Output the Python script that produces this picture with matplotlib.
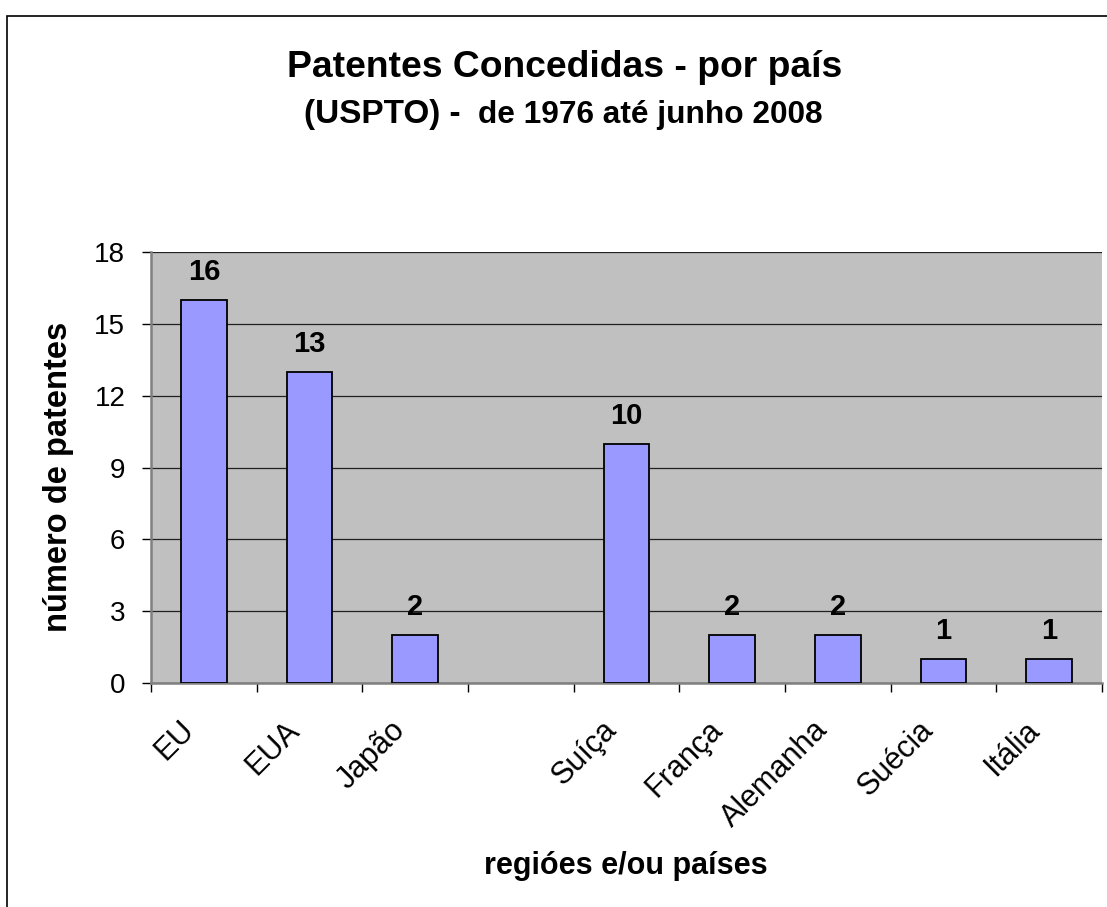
import matplotlib.pyplot as plt
import matplotlib.transforms as mtransforms
import numpy as np

plt.rcParams['font.family'] = ['Liberation Sans', 'DejaVu Sans']

# dados (a categoria vazia fica como espaco)
paises = ['EU', 'EUA', 'Japão', '', 'Suíça', 'França', 'Alemanha', 'Suécia', 'Itália']
patentes = [16, 13, 2, 0, 10, 2, 2, 1, 1]

W, H = 1107, 907
fig = plt.figure(figsize=(W/100, H/100), dpi=100)
ax = fig.add_axes([151/W, 1 - 683/H, (1102-151)/W, (683-252)/H])

x = np.arange(len(paises))
mask = np.array([p != '' for p in paises])
ax.bar(x[mask], np.array(patentes)[mask], width=0.43, color='#9999FF',
       edgecolor='black', linewidth=1.3, zorder=3)

for xi, v, p in zip(x, patentes, paises):
    if p == '':
        continue
    ax.annotate(str(v), (xi, v), xytext=(0, 14.4), textcoords='offset points',
                ha='center', va='baseline', fontsize=21, fontweight='bold')

ax.set_facecolor('#C0C0C0')
ax.set_xlim(-0.5, len(paises) - 0.5)
ax.set_ylim(0, 18)
ax.set_yticks(np.arange(0, 19, 3))
ax.yaxis.grid(True, color='#202020', linewidth=0.9, zorder=0)
ax.set_axisbelow(True)

# ticks nas fronteiras das categorias, rotulos no centro
ax.set_xticks(np.arange(-0.5, len(paises), 1.0))
ax.set_xticklabels([])
ax.set_xticks(x, minor=True)
ax.set_xticklabels(paises, minor=True, rotation=45, ha='right', va='top',
                   rotation_mode='anchor', fontsize=22)
ax.tick_params(axis='x', which='minor', length=0, pad=0)
ax.tick_params(axis='x', which='major', length=6.5, width=1, direction='out', color='black')
ax.tick_params(axis='y', length=6.5, width=1, direction='out', labelsize=20, pad=12)

offset = mtransforms.ScaledTranslation(-25/100, -32/100, fig.dpi_scale_trans)
for lab in ax.get_xticklabels(minor=True):
    lab.set_transform(lab.get_transform() + offset)

for s in ['top', 'right']:
    ax.spines[s].set_visible(False)
for s in ['left', 'bottom']:
    ax.spines[s].set_color('#808080')
    ax.spines[s].set_linewidth(1.8)

fig.text(59/W, 1 - 477/H, 'número de patentes', rotation=90, ha='center', va='center',
         fontsize=23.5, fontweight='bold')
fig.text(626/W, 1 - 866/H, 'regióes e/ou países', ha='center', va='center',
         fontsize=22, fontweight='bold')

fig.text(565/W, 1 - 77/H, 'Patentes Concedidas - por país', ha='center', va='baseline',
         fontsize=26.8, fontweight='bold')
fig.text(304/W, 1 - 123/H, '(USPTO) -', ha='left', va='baseline',
         fontsize=24, fontweight='bold')
fig.text(823/W, 1 - 123/H, 'de 1976 até junho 2008', ha='right', va='baseline',
         fontsize=22.8, fontweight='bold')

# moldura da figura
fig.patches.append(plt.Rectangle((7/W, -0.01), 1.02, 1 - 16/H + 0.01,
                                 transform=fig.transFigure, fill=False,
                                 edgecolor='black', linewidth=1.2))

fig.savefig('out.png', dpi=100)
